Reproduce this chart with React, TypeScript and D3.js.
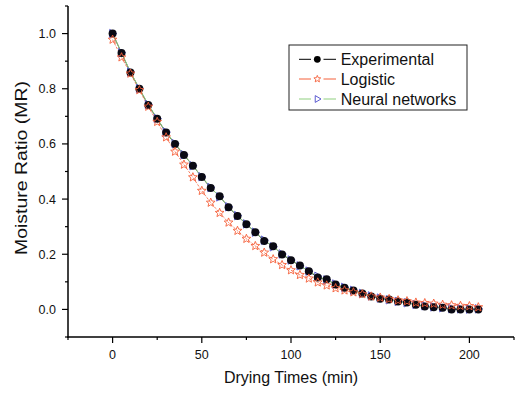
import React from "react";
import * as d3 from "d3";

const times = [0, 5, 10, 15, 20, 25, 30, 35, 40, 45, 50, 55, 60, 65, 70, 75, 80, 85, 90, 95, 100, 105, 110, 115, 120, 125, 130, 135, 140, 145, 150, 155, 160, 165, 170, 175, 180, 185, 190, 195, 200, 205];

const experimental = [1.0, 0.93, 0.859, 0.8, 0.741, 0.691, 0.641, 0.6, 0.56, 0.521, 0.48, 0.44, 0.41, 0.37, 0.339, 0.309, 0.28, 0.248, 0.229, 0.199, 0.178, 0.159, 0.138, 0.116, 0.109, 0.09, 0.079, 0.069, 0.058, 0.047, 0.039, 0.036, 0.029, 0.025, 0.017, 0.011, 0.008, 0.006, 0.0, 0.0, 0.0, 0.0];

const logistic = [0.978, 0.914, 0.855, 0.795, 0.735, 0.68, 0.624, 0.572, 0.525, 0.479, 0.43, 0.387, 0.35, 0.315, 0.285, 0.256, 0.23, 0.206, 0.182, 0.161, 0.142, 0.125, 0.112, 0.098, 0.087, 0.077, 0.069, 0.062, 0.055, 0.047, 0.043, 0.038, 0.033, 0.03, 0.025, 0.023, 0.021, 0.017, 0.015, 0.013, 0.012, 0.008];

const neural = [1.0, 0.931, 0.861, 0.801, 0.743, 0.692, 0.643, 0.601, 0.561, 0.521, 0.481, 0.442, 0.408, 0.372, 0.34, 0.31, 0.28, 0.251, 0.227, 0.201, 0.179, 0.158, 0.139, 0.12, 0.107, 0.092, 0.08, 0.069, 0.058, 0.049, 0.041, 0.035, 0.029, 0.024, 0.018, 0.013, 0.009, 0.006, 0.003, 0.002, 0.001, 0.002];

const xMajor = [0, 50, 100, 150, 200];
const xMinor = [-25, 25, 75, 125, 175, 225];
const yMajor = [0.0, 0.2, 0.4, 0.6, 0.8, 1.0];
const yMinor = [-0.1, 0.1, 0.3, 0.5, 0.7, 0.9, 1.1];
const yLabels = ["0.0", "0.2", "0.4", "0.6", "0.8", "1.0"];
const xLabels = ["0", "50", "100", "150", "200"];
const seriesNames = ["Experimental", "Logistic", "Neural networks"];

const FONT = "'Liberation Sans', Arial, sans-serif";
const ORANGE = "#f5603a";
const BLUE = "#5a5ad0";
const GREEN = "#8fcf7f";

function starPath(r: number) {
  const pts: [number, number][] = [];
  const inner = r * 0.45;
  for (let i = 0; i < 10; i++) {
    const a = -Math.PI / 2 + (i * Math.PI) / 5;
    const rr = i % 2 === 0 ? r : inner;
    pts.push([rr * Math.cos(a), rr * Math.sin(a)]);
  }
  return "M" + pts.map((p) => p[0].toFixed(2) + "," + p[1].toFixed(2)).join("L") + "Z";
}

function triPath(r: number) {
  return `M${-r * 0.7},${-r}L${r},0L${-r * 0.7},${r}Z`;
}

export default function App() {
  const W = 516;
  const H = 393;
  const x = d3.scaleLinear().domain([-25, 225]).range([68, 514]);
  const y = d3.scaleLinear().domain([-0.1, 1.1]).range([337, 6]);

  const line = (vals: number[]) =>
    d3
      .line<number>()
      .x((_, i) => x(times[i]))
      .y((d) => y(d))(vals) as string;

  const star = starPath(4.6);
  const tri = triPath(4.2);
  const starL = starPath(3.6);
  const triL = triPath(3.4);

  const legendX = 289;
  const legendY = 45;
  const rows = [59.3, 79, 99];

  return (
    <svg width={W} height={H} style={{ position: "absolute", left: 0, top: 0, background: "#fff" }}>
      {/* lines */}
      <path d={line(experimental)} fill="none" stroke="#000" strokeWidth={0.8} />
      <path d={line(logistic)} fill="none" stroke={ORANGE} strokeWidth={0.8} strokeDasharray="2.5,1.5" />
      <path d={line(neural)} fill="none" stroke={GREEN} strokeWidth={1} />

      {/* markers */}
      {neural.map((v, i) => (
        <path key={"n" + i} d={tri} transform={`translate(${x(times[i])},${y(v)})`} fill="none" stroke={BLUE} strokeWidth={1} />
      ))}
      {experimental.map((v, i) => (
        <circle key={"e" + i} cx={x(times[i])} cy={y(v)} r={4} fill="#0a0a14" />
      ))}
      {logistic.map((v, i) => (
        <path key={"l" + i} d={star} transform={`translate(${x(times[i])},${y(v)})`} fill="none" stroke={ORANGE} strokeWidth={0.9} />
      ))}

      {/* axes */}
      <line x1={68} x2={68} y1={y(1.1)} y2={y(-0.1) + 0.75} stroke="#000" strokeWidth={1.5} />
      <line x1={67.25} x2={514} y1={337} y2={337} stroke="#000" strokeWidth={1.5} />
      {yMajor.map((v, i) => (
        <g key={"ym" + i}>
          <line x1={62} x2={68} y1={y(v)} y2={y(v)} stroke="#000" strokeWidth={1.2} />
          <text x={56} y={y(v)} dy="0.36em" textAnchor="end" fontSize={12.5} fontFamily={FONT} fill="#111">
            {yLabels[i]}
          </text>
        </g>
      ))}
      {yMinor.map((v, i) => (
        <line key={"yn" + i} x1={65} x2={68} y1={y(v)} y2={y(v)} stroke="#000" strokeWidth={1.2} />
      ))}
      {xMajor.map((v, i) => (
        <g key={"xm" + i}>
          <line x1={x(v)} x2={x(v)} y1={337} y2={343} stroke="#000" strokeWidth={1.2} />
          <text x={x(v)} y={358.5} textAnchor="middle" fontSize={12.5} fontFamily={FONT} fill="#111">
            {xLabels[i]}
          </text>
        </g>
      ))}
      {xMinor.map((v, i) => (
        <line key={"xn" + i} x1={x(v)} x2={x(v)} y1={337} y2={340} stroke="#000" strokeWidth={1.2} />
      ))}

      {/* axis titles */}
      <text x={291} y={383} textAnchor="middle" fontSize={16} fontFamily={FONT} fill="#111">
        Drying Times (min)
      </text>
      <text
        transform="translate(26.5,168) rotate(-90)"
        textAnchor="middle"
        fontSize={16}
        fontFamily={FONT}
        fill="#111"
        textLength={174}
        lengthAdjust="spacingAndGlyphs"
      >
        Moisture Ratio (MR)
      </text>

      {/* legend */}
      <rect x={legendX} y={legendY} width={178} height={65} fill="#fff" stroke="#222" strokeWidth={1} />
      {seriesNames.map((name, i) => {
        const cy = rows[i];
        const col = i === 0 ? "#000" : i === 1 ? ORANGE : GREEN;
        return (
          <g key={"lg" + i}>
            <line x1={299} x2={311} y1={cy} y2={cy} stroke={col} strokeWidth={1} />
            <line x1={323.5} x2={336} y1={cy} y2={cy} stroke={col} strokeWidth={1} />
            {i === 0 && <circle cx={317.3} cy={cy} r={3.4} fill="#000" />}
            {i === 1 && <path d={starL} transform={`translate(317.3,${cy})`} fill="none" stroke={ORANGE} strokeWidth={0.9} />}
            {i === 2 && <path d={triL} transform={`translate(317.6,${cy})`} fill="none" stroke={BLUE} strokeWidth={1} />}
            <text x={340.7} y={cy} dy="0.36em" fontSize={16} fontFamily={FONT} fill="#111">
              {name}
            </text>
          </g>
        );
      })}
    </svg>
  );
}
